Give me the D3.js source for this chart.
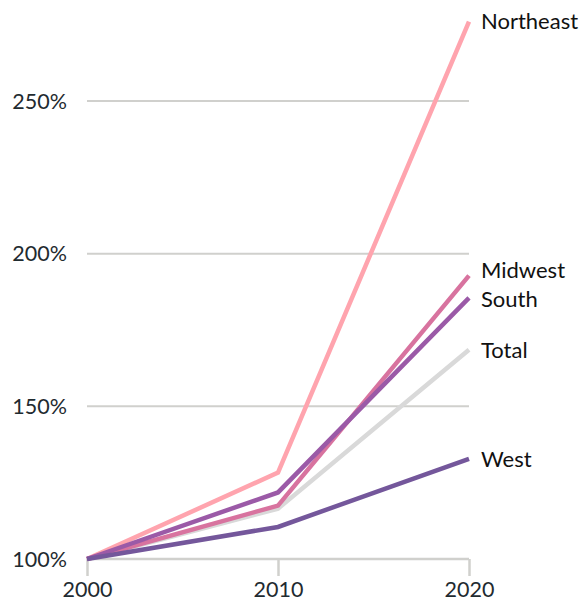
<!DOCTYPE html>
<html>
<head>
<meta charset="utf-8">
<script src="https://cdn.jsdelivr.net/npm/d3@7"></script>
<style>
  html, body { margin: 0; padding: 0; background: #fff; }
  svg { display: block; font-family: Lato, "Noto Sans", sans-serif; }
</style>
</head>
<body>
<svg id="chart" width="587" height="603"></svg>
<script>
const years = [2000, 2010, 2020];
const yTicks = [100, 150, 200, 250];
const seriesNames = ["Total", "Northeast", "Midwest", "South", "West"];
const totalValues = [100, 116.5, 168.5];
const northeastValues = [100, 128.3, 276];
const midwestValues = [100, 117.5, 192.8];
const southValues = [100, 121.8, 185.5];
const westValues = [100, 110.5, 132.8];
const seriesColors = ["#d9d9d9", "#ffa4ae", "#d8739f", "#9b5aa7", "#74579b"];
const labelOffsets = [0, 0, -5, 1, 0];

const series = [totalValues, northeastValues, midwestValues, southValues, westValues]
  .map((v, i) => ({ name: seriesNames[i], values: v, color: seriesColors[i], dy: labelOffsets[i] }));

const svg = d3.select("#chart");
const x = d3.scaleLinear().domain([2000, 2020]).range([87, 469]);
const y = d3.scaleLinear().domain([100, 250]).range([559, 101]);

// gridlines
svg.append("g").selectAll("line").data(yTicks.filter(d => d !== 100)).join("line")
  .attr("x1", x(2000)).attr("x2", x(2020))
  .attr("y1", d => y(d)).attr("y2", d => y(d))
  .attr("stroke", "#d0d0cd").attr("stroke-width", 2);

// y labels
svg.append("g").selectAll("text").data(yTicks).join("text")
  .attr("x", 67).attr("y", d => y(d)).attr("dy", "0.35em")
  .attr("text-anchor", "end").attr("fill", "#1f2b30").attr("font-size", 21.5)
  .text(d => d + "%");

// x axis baseline and ticks
const xAxis = d3.axisBottom(x).tickValues(years).tickFormat(d3.format("d")).tickSize(17).tickPadding(6);
const gx = svg.append("g").attr("transform", `translate(0,${y(100)})`).call(xAxis);
gx.select(".domain").attr("stroke", "#d0d0cd").attr("stroke-width", 2.5)
  .attr("d", `M${x(2000)},0H${x(2020)}`);
gx.selectAll(".tick line").attr("stroke", "#d0d0cd").attr("stroke-width", 2.5);
gx.selectAll(".tick text").attr("fill", "#1f2b30").attr("font-size", 21.5)
  .attr("font-family", "Lato, 'Noto Sans', sans-serif").attr("y", 30).attr("dy", "0.35em");

// lines
const line = d3.line().x((d, i) => x(years[i])).y(d => y(d));
svg.append("g").selectAll("path").data(series).join("path")
  .attr("d", d => line(d.values))
  .attr("fill", "none").attr("stroke", d => d.color)
  .attr("stroke-width", 4.5).attr("stroke-linejoin", "miter");

// labels
svg.append("g").selectAll("text").data(series).join("text")
  .attr("x", x(2020) + 12)
  .attr("y", d => y(d.values[2]) + d.dy)
  .attr("dy", "0.35em")
  .attr("fill", "#111").attr("font-size", 22)
  .text(d => d.name);
</script>
</body>
</html>
